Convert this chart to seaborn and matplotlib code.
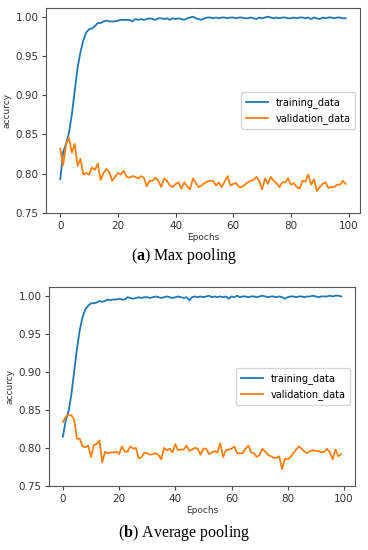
import matplotlib
matplotlib.use("Agg")

import numpy as np
import pandas as pd
import matplotlib.pyplot as plt
import seaborn as sns

epochs = np.arange(100)

# (a) max pooling
train_max = [
    0.793, 0.828, 0.838, 0.852, 0.875, 0.905, 0.935, 0.955, 0.970, 0.980,
    0.984, 0.985, 0.988, 0.992, 0.992, 0.994, 0.995, 0.994, 0.994, 0.994,
    0.995, 0.996, 0.996, 0.996, 0.996, 0.994, 0.997, 0.996, 0.997, 0.996,
    0.997, 0.998, 0.997, 0.996, 0.998, 0.998, 0.997, 0.998, 0.996, 0.998,
    0.997, 0.998, 0.997, 0.996, 0.998, 0.999, 1.000, 0.998, 0.997, 0.996,
    0.998, 0.999, 0.999, 0.998, 0.999, 0.998, 0.999, 0.999, 0.998, 0.999,
    0.999, 0.998, 0.999, 0.999, 0.998, 0.998, 0.999, 0.998, 0.997, 0.999,
    0.998, 0.999, 1.000, 0.999, 0.998, 0.999, 0.998, 0.999, 0.999, 0.998,
    0.998, 0.999, 0.998, 0.999, 0.999, 0.998, 0.999, 0.997, 0.999, 0.998,
    0.997, 0.999, 0.998, 0.999, 0.999, 0.998, 0.999, 0.999, 0.998, 0.998,
]
val_max = [
    0.832, 0.811, 0.837, 0.846, 0.827, 0.838, 0.810, 0.819, 0.799, 0.801,
    0.799, 0.808, 0.805, 0.813, 0.792, 0.801, 0.806, 0.802, 0.791, 0.796,
    0.801, 0.799, 0.804, 0.796, 0.795, 0.797, 0.796, 0.794, 0.797, 0.795,
    0.784, 0.791, 0.791, 0.795, 0.791, 0.783, 0.794, 0.791, 0.785, 0.783,
    0.787, 0.789, 0.781, 0.789, 0.784, 0.780, 0.794, 0.788, 0.783, 0.785,
    0.788, 0.790, 0.791, 0.791, 0.785, 0.789, 0.783, 0.790, 0.797, 0.785,
    0.787, 0.788, 0.783, 0.783, 0.786, 0.789, 0.791, 0.792, 0.796, 0.791,
    0.780, 0.794, 0.787, 0.796, 0.791, 0.788, 0.783, 0.789, 0.789, 0.794,
    0.786, 0.788, 0.783, 0.781, 0.791, 0.790, 0.799, 0.786, 0.793, 0.778,
    0.783, 0.787, 0.789, 0.782, 0.783, 0.783, 0.786, 0.786, 0.791, 0.787,
]

# (b) average pooling
train_avg = [
    0.815, 0.836, 0.848, 0.870, 0.900, 0.930, 0.955, 0.972, 0.982, 0.987,
    0.990, 0.990, 0.991, 0.993, 0.992, 0.993, 0.995, 0.994, 0.995, 0.995,
    0.996, 0.995, 0.995, 0.998, 0.997, 0.996, 0.997, 0.998, 0.997, 0.998,
    0.998, 0.997, 0.998, 0.999, 0.998, 0.997, 0.998, 0.999, 0.998, 0.997,
    0.998, 0.999, 0.998, 0.997, 0.998, 0.994, 0.998, 0.999, 0.998, 0.999,
    0.998, 0.999, 1.000, 0.998, 0.999, 0.998, 0.999, 0.998, 0.999, 0.996,
    0.999, 0.998, 1.000, 0.998, 0.999, 0.999, 0.998, 0.999, 0.999, 0.998,
    0.999, 1.000, 0.999, 0.998, 0.999, 0.999, 0.998, 0.999, 0.998, 0.996,
    0.998, 0.999, 0.999, 0.998, 0.999, 0.999, 0.998, 0.999, 0.999, 1.000,
    0.999, 0.998, 0.999, 0.999, 0.999, 1.000, 0.999, 1.000, 1.000, 0.999,
]
val_avg = [
    0.834, 0.841, 0.843, 0.843, 0.837, 0.812, 0.812, 0.802, 0.801, 0.803,
    0.788, 0.804, 0.805, 0.810, 0.781, 0.795, 0.793, 0.794, 0.794, 0.795,
    0.792, 0.802, 0.795, 0.795, 0.802, 0.799, 0.800, 0.786, 0.788, 0.794,
    0.793, 0.791, 0.792, 0.793, 0.791, 0.785, 0.800, 0.797, 0.799, 0.794,
    0.805, 0.797, 0.798, 0.798, 0.803, 0.796, 0.798, 0.800, 0.799, 0.791,
    0.799, 0.799, 0.792, 0.794, 0.796, 0.794, 0.806, 0.788, 0.797, 0.798,
    0.799, 0.802, 0.793, 0.793, 0.793, 0.799, 0.803, 0.794, 0.793, 0.788,
    0.791, 0.799, 0.795, 0.791, 0.789, 0.787, 0.787, 0.789, 0.772, 0.786,
    0.785, 0.788, 0.793, 0.798, 0.802, 0.799, 0.795, 0.793, 0.796, 0.797,
    0.796, 0.796, 0.794, 0.795, 0.799, 0.794, 0.785, 0.798, 0.789, 0.792,
]

captions = [r"($\mathbf{a}$) Max pooling", r"($\mathbf{b}$) Average pooling"]
colors = ["#1f77b4", "#ff7f0e"]

# serif bold letter inside the captions
plt.rcParams["mathtext.fontset"] = "custom"
plt.rcParams["mathtext.bf"] = "Liberation Serif:bold"
plt.rcParams["mathtext.rm"] = "Liberation Serif"

fig = plt.figure(figsize=(3.68, 5.5), dpi=100)
# axes positions in figure fractions (left, bottom, width, height)
ax_a = fig.add_axes([46 / 368, 1 - 213 / 550, 314 / 368, 205 / 550])
ax_b = fig.add_axes([49 / 368, 1 - 486 / 550, 306 / 368, 199 / 550])

panels = [(ax_a, train_max, val_max), (ax_b, train_avg, val_avg)]
for ax, tr, va in panels:
    df = pd.DataFrame({"epoch": epochs, "training_data": tr, "validation_data": va})
    sns.lineplot(data=df, x="epoch", y="training_data", ax=ax,
                 color=colors[0], lw=1.3, label="training_data")
    sns.lineplot(data=df, x="epoch", y="validation_data", ax=ax,
                 color=colors[1], lw=1.3, label="validation_data")
    ax.set_ylim(bottom=0.75)
    ax.set_xticks([0, 20, 40, 60, 80, 100])
    ax.set_yticks([0.75, 0.80, 0.85, 0.90, 0.95, 1.00])
    ax.tick_params(labelsize=7.5, length=3, pad=2.5, color="#444444", labelcolor="#333333")
    ax.set_xlabel("Epochs", fontsize=6.5, color="#333333", labelpad=1.5)
    ax.set_ylabel("accurcy", fontsize=6.5, color="#333333", labelpad=3)
    for s in ax.spines.values():
        s.set_color("#555555")
        s.set_linewidth(0.8)
    leg = ax.legend(loc="center right", fontsize=7, frameon=True,
                    handlelength=2.2, borderpad=0.5, labelspacing=0.5)
    leg.get_frame().set_edgecolor("#cccccc")

fig.text(0.5, 1 - 256 / 550, captions[0], ha="center", va="center",
         fontsize=11.5, family="Liberation Serif")
fig.text(0.5, 1 - 533 / 550, captions[1], ha="center", va="center",
         fontsize=11.5, family="Liberation Serif")

fig.savefig("out.png", dpi=100)
